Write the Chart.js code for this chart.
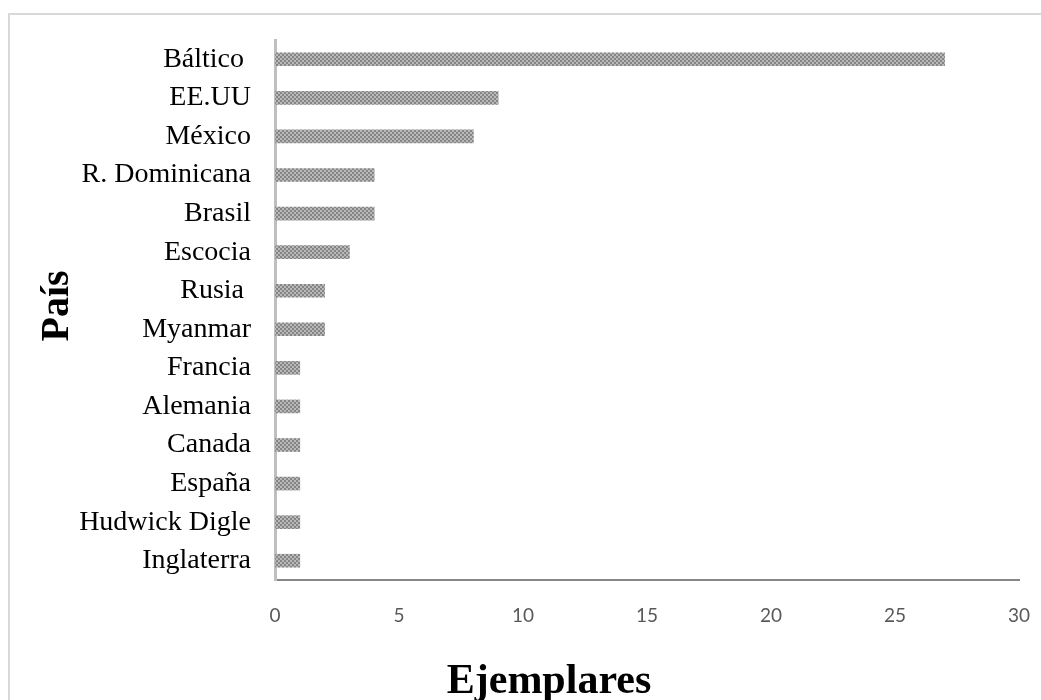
<!DOCTYPE html>
<html>
<head>
<meta charset="utf-8">
<script src="https://cdn.jsdelivr.net/npm/chart.js@4"></script>
<style>
  html, body { margin: 0; padding: 0; background: #fff; }
  #frame { position: absolute; left: 8px; top: 13px; width: 1100px; height: 760px;
           border-left: 2px solid #d9d9d9; border-top: 2px solid #d9d9d9; }
  #wrap { position: absolute; left: 0; top: 0; width: 1041px; height: 700px; }
</style>
</head>
<body>
<div id="frame"></div>
<div id="wrap"><canvas id="chart" width="1041" height="700"></canvas></div>
<script>
// Countries, listed top to bottom
const paises = ['Báltico ', 'EE.UU', 'México', 'R. Dominicana', 'Brasil', 'Escocia', 'Rusia ',
                'Myanmar', 'Francia', 'Alemania', 'Canada', 'España', 'Hudwick Digle', 'Inglaterra'];
// Number of specimens per country
const ejemplares = [27, 9, 8, 4, 4, 3, 2, 2, 1, 1, 1, 1, 1, 1];
// Horizontal axis ticks
const ticksX = [0, 5, 10, 15, 20, 25, 30];
// Axis titles
const tituloX = 'Ejemplares';
const tituloY = 'País';

const serif = "'Liberation Serif', 'Times New Roman', serif";

// Checkered grey fill for the bars
function checkerPattern(ctx) {
  const c = document.createElement('canvas');
  c.width = 4; c.height = 4;
  const g = c.getContext('2d');
  g.fillStyle = '#b9b9b9';
  g.fillRect(0, 0, 4, 4);
  g.fillStyle = '#858585';
  g.fillRect(0, 0, 2, 2);
  g.fillRect(2, 2, 2, 2);
  return ctx.createPattern(c, 'repeat');
}

// Axis titles placed under / beside the plot
const axisTitles = {
  id: 'axisTitles',
  afterDraw(chart) {
    const ctx = chart.ctx;
    ctx.save();
    ctx.fillStyle = '#000';
    ctx.font = 'bold 42px ' + serif;
    ctx.textAlign = 'center';
    ctx.textBaseline = 'alphabetic';
    ctx.fillText(tituloX, 549, 693);
    ctx.font = 'bold 40px ' + serif;
    ctx.translate(68, 306);
    ctx.rotate(-Math.PI / 2);
    ctx.fillText(tituloY, 0, 0);
    ctx.restore();
  }
};

const canvas = document.getElementById('chart');

new Chart(canvas, {
  type: 'bar',
  data: {
    labels: paises,
    datasets: [{
      data: ejemplares,
      backgroundColor: checkerPattern(canvas.getContext('2d')),
      borderWidth: 0,
      barThickness: 13
    }]
  },
  options: {
    indexAxis: 'y',
    responsive: false,
    animation: false,
    layout: { padding: { left: 0, top: 40, right: 22, bottom: 0 } },
    plugins: { legend: { display: false }, tooltip: { enabled: false } },
    scales: {
      x: {
        min: 0, max: 30,
        afterBuildTicks: (s) => { s.ticks = ticksX.map(v => ({ value: v })); },
        afterFit: (s) => { s.height = 120; s.paddingLeft = 0; s.paddingRight = 0; },
        grid: { color: 'rgba(0,0,0,0)', drawTicks: false },
        border: { color: '#878787', width: 2 },
        ticks: { color: '#595959', padding: 24, font: { family: 'Lato', size: 19 } }
      },
      y: {
        afterFit: (s) => { s.width = 275; s.paddingTop = 0; s.paddingBottom = 0; },
        grid: { color: 'rgba(0,0,0,0)', drawTicks: false },
        border: { color: '#bfbfbf', width: 3 },
        ticks: { color: '#000', padding: 24, font: { family: serif, size: 28 } }
      }
    }
  },
  plugins: [axisTitles]
});
</script>
</body>
</html>
